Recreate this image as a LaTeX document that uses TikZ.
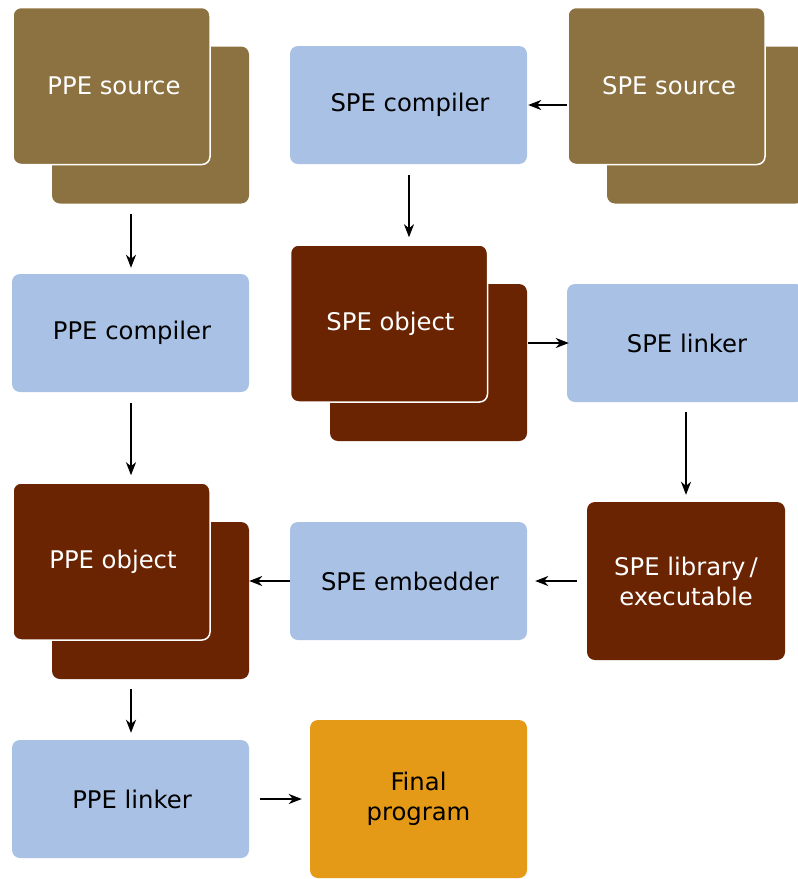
\documentclass[tikz,border=0pt]{standalone}
\usepackage{fontspec}
\setmainfont{DejaVu Sans}
\usetikzlibrary{arrows.meta,calc}
\definecolor{srcbrown}{HTML}{8D7241}
\definecolor{objbrown}{HTML}{6B2402}
\definecolor{toolblue}{HTML}{A8C1E5}
\definecolor{finalorange}{HTML}{E59A17}
\tikzset{
  box/.style={rounded corners=8pt, inner sep=0pt, align=center,
    font=\fontsize{24.3}{30}\selectfont},
  tool/.style={box, fill=toolblue, text=black, minimum width=237pt, minimum height=118pt},
  filebox/.style={box, minimum width=197pt, minimum height=157pt, text=white},
  front/.style={filebox, draw=white, line width=1.5pt},
  srcfill/.style={fill=srcbrown},
  objfill/.style={fill=objbrown},
  arr/.style={line width=1.8pt, -{Stealth[length=13pt,width=10pt,inset=4pt]}},
}
\begin{document}
\begin{tikzpicture}[x=1pt,y=-1pt]
\useasboundingbox (0,0) rectangle (798,879);
\clip (0,0) rectangle (798,879);

% PPE source (stacked)
\node[filebox, srcfill] (psrcback) at (150.5,125) {};
\node[front, srcfill] (psrc) at (111.5,86) {\hspace{5pt}PPE source};

% SPE source (stacked)
\node[filebox, srcfill] (ssrcback) at (705.5,125) {};
\node[front, srcfill] (ssrc) at (666.5,86) {\hspace{5pt}SPE source};

% tools
\node[tool] (scomp) at (408.5,105) {\hspace{3pt}SPE compiler};
\node[tool] (pcomp) at (130.5,333) {\hspace{3pt}PPE compiler};
\node[tool] (slink) at (685.5,343) {\hspace{3pt}SPE linker};
\node[tool] (semb) at (408.5,581) {\hspace{3pt}SPE embedder};
\node[tool] (plink) at (130.5,799) {\hspace{3pt}PPE linker};

% SPE object (stacked)
\node[filebox, objfill] (sobjback) at (428.5,362.5) {};
\node[front, objfill] (sobj) at (389,323.5) {\hspace{3pt}SPE object};

% PPE object (stacked)
\node[filebox, objfill] (pobjback) at (150.5,600.5) {};
\node[front, objfill] (pobj) at (111.5,561.5) {\hspace{3pt}PPE object};

% SPE library / executable
\node[box, fill=objbrown, text=white, minimum width=198pt, minimum height=158pt]
  (slib) at (686,581) {SPE library\,/\\executable};

% final program
\node[box, fill=finalorange, text=black, minimum width=217pt, minimum height=158pt]
  (final) at (418.5,799) {Final\\program};

% connectors (vertical ones nudged onto whole pixel columns)
\coordinate (c1) at ([xshift=0.5pt]scomp.south);
\coordinate (c2) at ([xshift=0.5pt]pcomp.north);
\coordinate (c3) at ([xshift=0.5pt]pcomp.south);
\coordinate (c4) at ([xshift=0.5pt]plink.north);
\draw[arr, shorten >=1pt] (ssrc.west |- scomp.east) -- (scomp.east);
\draw[arr, shorten <=11pt, shorten >=7pt] (c1) -- (sobj.north -| c1);
\draw[arr, shorten <=10pt, shorten >=6pt] (psrcback.south -| c2) -- (c2);
\draw[arr, shorten <=1pt, shorten >=-2pt] (sobjback.east |- slink.west) -- (slink.west);
\draw[arr, shorten <=11pt, shorten >=7pt] (c3) -- (pobj.north -| c3);
\draw[arr, shorten <=10pt, shorten >=7pt] (slink.south -| slib.north) -- (slib.north);
\draw[arr, shorten <=10pt, shorten >=8pt] (slib.west) -- (semb.east);
\draw[arr, shorten >=0pt] (semb.west) -- (pobjback.east |- semb.west);
\draw[arr, shorten <=10pt, shorten >=7pt] (pobjback.south -| c4) -- (c4);
\draw[arr, shorten <=11pt, shorten >=8pt] (plink.east) -- (final.west);
\end{tikzpicture}
\end{document}
